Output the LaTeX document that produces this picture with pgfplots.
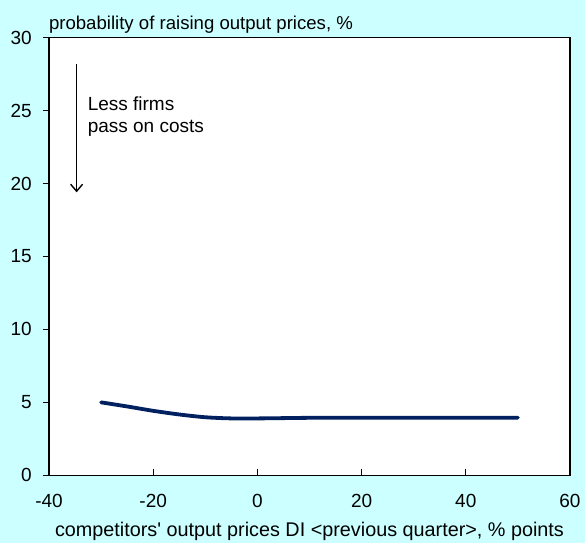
\documentclass[border=0pt]{standalone}
\usepackage{fontspec}
\setmainfont{Liberation Sans}
\usepackage{pgfplots}
\pgfplotsset{compat=1.18}
\usetikzlibrary{arrows.meta}
\definecolor{bgcyan}{RGB}{204,255,255}
\definecolor{navy}{RGB}{0,32,96}
\begin{document}
\begin{tikzpicture}
\fill[bgcyan] (-49bp,-67.7bp) rectangle (536bp,475.3bp);
\begin{axis}[
  scale only axis,
  width=521bp, height=437.6bp,
  xmin=-40, xmax=60, ymin=0, ymax=30,
  xtick={-40,-20,0,20,40,60},
  xticklabels={-40,-20,0,20,40,60},
  ytick={0,5,10,15,20,25,30},
  yticklabels={0,5,10,15,20,25,30},
  xtick pos=bottom, ytick pos=left,
  tick align=inside,
  major tick length=6bp,
  ytick style={xshift=-6bp, line width=1bp, black},
  xtick style={line width=1bp, black},
  axis line style={line width=1.2bp},
  axis background/.style={fill=white},
  yticklabel style={xshift=-17bp, inner sep=0pt, anchor=east, font=\fontsize{19bp}{22bp}\selectfont},
  xticklabel style={yshift=-19bp, inner sep=0pt, anchor=north, font=\fontsize{19bp}{22bp}\selectfont},
  xlabel={competitors\textquotesingle\ output prices DI <previous quarter>, \% points},
  xlabel style={font=\fontsize{19.8bp}{22bp}\selectfont, inner sep=0pt, anchor=base, at={(rel axis cs:0.5,0)}, yshift=-61.5bp},
  clip=false,
]
\addplot[navy, line width=3.8bp, smooth, line cap=round] coordinates {
(-30,5.0) (-25,4.72) (-20,4.42) (-15,4.17) (-10,3.98) (-5,3.9) (0,3.9) (5,3.92) (10,3.94) (20,3.95) (30,3.95) (40,3.95) (50,3.95)
};
\draw[line width=1.4bp, -{Straight Barb[length=7bp,width=12bp,line width=1.4bp]}] (axis cs:-34.7,28.2) -- (axis cs:-34.7,19.4);
\node[anchor=base west, inner sep=0, font=\fontsize{19bp}{22bp}\selectfont] at (axis cs:-32.6,25.0) {Less firms};
\node[anchor=base west, inner sep=0, font=\fontsize{19bp}{22bp}\selectfont] at (axis cs:-32.6,23.5) {pass on costs};
\end{axis}
\node[anchor=base west, inner sep=0pt, outer sep=0pt, font=\fontsize{18.6bp}{22bp}\selectfont] at (0bp,446bp) {probability of raising output prices, \%};
\pgfresetboundingbox
\path (-49bp,-67.7bp) rectangle (536bp,475.3bp);
\end{tikzpicture}
\end{document}
